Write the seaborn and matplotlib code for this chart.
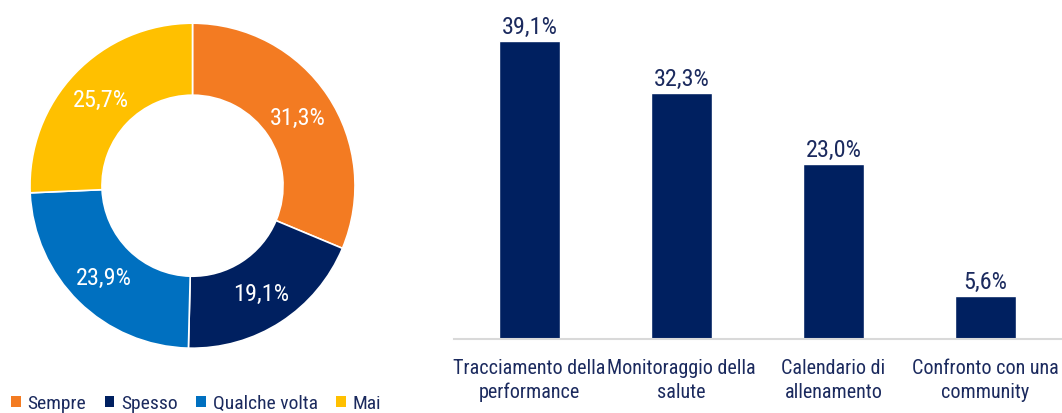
import matplotlib
matplotlib.use("Agg")
import matplotlib.pyplot as plt
from matplotlib.patches import Patch
import seaborn as sns
import pandas as pd
import numpy as np

# Frequency of use (donut)
freq_labels = ["Sempre", "Spesso", "Qualche volta", "Mai"]
freq_values = [31.3, 19.1, 23.9, 25.7]
freq_colors = ["#F37B22", "#002060", "#0070C0", "#FFC000"]

# Main features used (bars)
feat_labels = ["Tracciamento della\nperformance", "Monitoraggio della\nsalute",
               "Calendario di\nallenamento", "Confronto con una\ncommunity"]
feat_values = [39.1, 32.3, 23.0, 5.6]

sns.set_theme(style="white")
plt.rcParams["font.family"] = ["Roboto Condensed", "Liberation Sans", "DejaVu Sans"]

TEXT = "#1B2A5E"
BAR = "#002060"

W, H = 1062, 414
fig = plt.figure(figsize=(W / 100, H / 100), dpi=100)


def px_axes(x0, y0, x1, y1):
    return fig.add_axes([x0 / W, 1 - y1 / H, (x1 - x0) / W, (y1 - y0) / H])


def fmt(v):
    return f"{v:.1f}%".replace(".", ",")


# Donut
cx, cy, R = 192.5, 186.7, 162.5
half = 170
ring = 0.443
ax1 = px_axes(cx - half, cy - half, cx + half, cy + half)
lim = half / R
ax1.pie(freq_values, colors=freq_colors, startangle=90, counterclock=False,
        radius=1.0, wedgeprops=dict(width=ring, edgecolor="white", linewidth=1.2))
ax1.set_xlim(-lim, lim)
ax1.set_ylim(-lim, lim)
ax1.set_aspect("equal")
start = 90.0
mid_r = 1.0 - ring / 2
for v in freq_values:
    ang = np.deg2rad(start - v * 3.6 / 2)
    ax1.text(mid_r * np.cos(ang), mid_r * np.sin(ang) - 0.01, fmt(v), color="white",
             ha="center", va="center", fontsize=17.5)
    start -= v * 3.6

# Legend
handles = [Patch(facecolor=c, edgecolor="none") for c in freq_colors]
fig.legend(handles, freq_labels, loc="center left", bbox_to_anchor=(11 / W, 1 - 404 / H),
           ncol=4, frameon=False, fontsize=14.0, handlelength=0.5, handleheight=0.5,
           handletextpad=0.35, columnspacing=0.95, borderaxespad=0, borderpad=0,
           labelcolor=TEXT)

# Bars
ax2 = px_axes(453.5, 0, 1061.5, 340)
df = pd.DataFrame({"feature": feat_labels, "value": feat_values})
sns.barplot(data=df, x="feature", y="value", color=BAR, width=0.4, saturation=1, ax=ax2)
ax2.set_ylim(0, 340 / 7.61)
ax2.set_xlim(-0.5, len(feat_labels) - 0.5)
for p, v in zip(ax2.patches, feat_values):
    ax2.annotate(fmt(v), (p.get_x() + p.get_width() / 2, p.get_height()),
                 xytext=(0, 2.5), textcoords="offset points", ha="center", va="bottom",
                 fontsize=17.5, color=TEXT)
ax2.set_xlabel("")
ax2.set_ylabel("")
ax2.set_yticks([])
ax2.tick_params(axis="x", length=0, pad=14, labelsize=14.5, labelcolor=TEXT)
for t in ax2.get_xticklabels():
    t.set_linespacing(1.28)
for s in ["top", "right", "left"]:
    ax2.spines[s].set_visible(False)
ax2.spines["bottom"].set_color("#D9D9D9")
ax2.spines["bottom"].set_linewidth(1.5)

fig.savefig("out.png", dpi=100)
